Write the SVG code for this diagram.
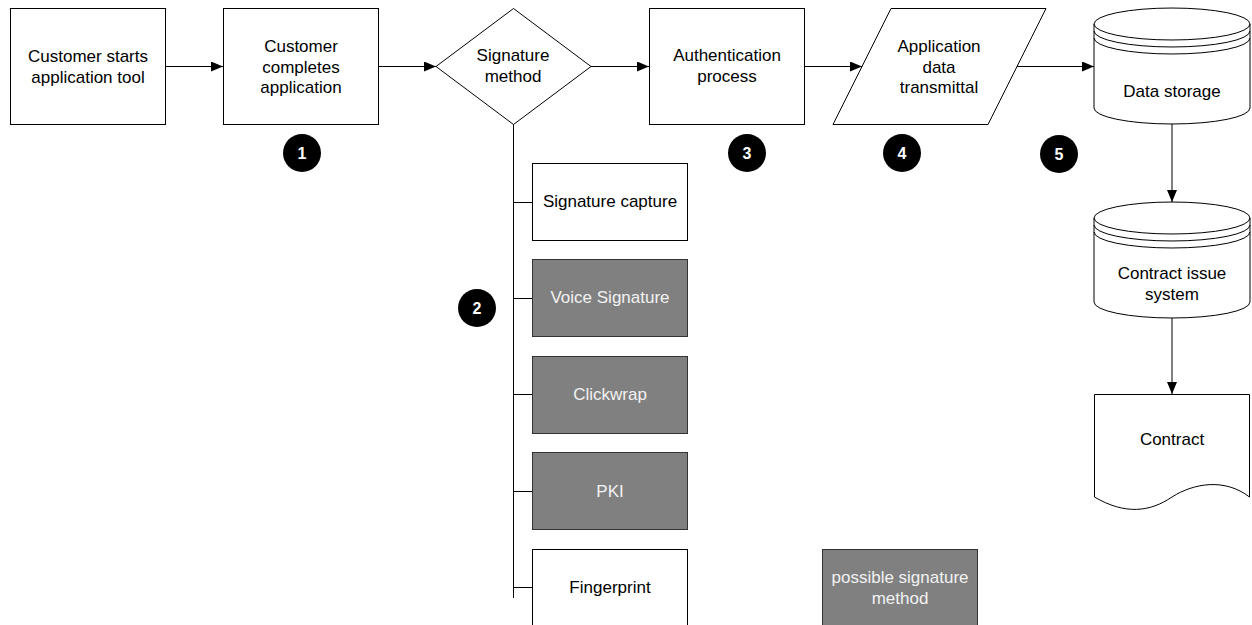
<svg xmlns="http://www.w3.org/2000/svg" width="1252" height="625" viewBox="0 0 1252 625">
  <style>
    .shape { fill: #ffffff; stroke: #000000; stroke-width: 1; }
    .alt { fill: #808080; stroke: #333333; stroke-width: 1; }
    .lbl { font-family: "Liberation Sans", Arial, sans-serif; font-size: 17px; fill: #000000; text-anchor: middle; }
    .lbl-alt { font-family: "Liberation Sans", Arial, sans-serif; font-size: 17px; fill: #f2f2f2; text-anchor: middle; }
    .badge { fill: #000000; }
    .num { font-family: "Liberation Sans", Arial, sans-serif; font-size: 16px; font-weight: bold; fill: #ffffff; text-anchor: middle; }
    .link { fill: none; stroke: #000000; stroke-width: 1; }
  </style>
  <defs>
    <marker id="arrow" markerWidth="12" markerHeight="10" refX="12" refY="5" orient="auto" markerUnits="userSpaceOnUse">
      <path d="M0,0 L12,5 L0,10 Z" fill="#000000"/>
    </marker>
  </defs>

  <rect width="1252" height="625" fill="#ffffff"/>

  <!-- connectors -->
  <g id="connectors">
    <line class="link" x1="165" y1="66.5" x2="223" y2="66.5" marker-end="url(#arrow)"/>
    <line class="link" x1="378" y1="66.5" x2="436" y2="66.5" marker-end="url(#arrow)"/>
    <line class="link" x1="591" y1="66.5" x2="649" y2="66.5" marker-end="url(#arrow)"/>
    <line class="link" x1="804" y1="66.5" x2="862" y2="66.5" marker-end="url(#arrow)"/>
    <line class="link" x1="1017" y1="66.5" x2="1094" y2="66.5" marker-end="url(#arrow)"/>
    <line class="link" x1="1172" y1="124" x2="1172" y2="202" marker-end="url(#arrow)"/>
    <line class="link" x1="1172" y1="318" x2="1172" y2="394" marker-end="url(#arrow)"/>
    <!-- branch trunk from the decision to the signature options -->
    <line class="link" x1="513.5" y1="124" x2="513.5" y2="598"/>
    <line class="link" x1="513" y1="202.5" x2="532" y2="202.5"/>
    <line class="link" x1="513" y1="298.5" x2="532" y2="298.5"/>
    <line class="link" x1="513" y1="394.5" x2="532" y2="394.5"/>
    <line class="link" x1="513" y1="491.5" x2="532" y2="491.5"/>
    <line class="link" x1="513" y1="587.5" x2="532" y2="587.5"/>
  </g>

  <g id="start">
    <rect class="shape" x="10.5" y="8.5" width="155" height="116"/>
    <text class="lbl" x="88" y="62">Customer starts</text>
    <text class="lbl" x="88" y="82.5">application tool</text>
  </g>

  <g id="complete">
    <rect class="shape" x="223.5" y="8.5" width="155" height="116"/>
    <text class="lbl" x="301" y="52">Customer</text>
    <text class="lbl" x="301" y="72.5">completes</text>
    <text class="lbl" x="301" y="93">application</text>
  </g>

  <g id="decision">
    <path class="shape" d="M436,66.5 L513.5,8.5 L591,66.5 L513.5,124.5 Z"/>
    <text class="lbl" x="513" y="61">Signature</text>
    <text class="lbl" x="513" y="81.5">method</text>
  </g>

  <g id="auth">
    <rect class="shape" x="649.5" y="8.5" width="155" height="116"/>
    <text class="lbl" x="727" y="61">Authentication</text>
    <text class="lbl" x="727" y="81.5">process</text>
  </g>

  <g id="transmit">
    <path class="shape" d="M891,8.5 L1046,8.5 L988,124.5 L833,124.5 Z"/>
    <text class="lbl" x="939" y="52">Application</text>
    <text class="lbl" x="939" y="72.5">data</text>
    <text class="lbl" x="939" y="93">transmittal</text>
  </g>

  <g id="storage">
    <path class="shape" d="M1094,24 L1094,108 A78,16 0 0 0 1250,108 L1250,24 A78,16 0 0 0 1094,24 Z"/>
    <path class="link" d="M1094,24 A78,16 0 0 0 1250,24"/>
    <path class="link" d="M1094,31 A78,16 0 0 0 1250,31"/>
    <path class="link" d="M1094,38 A78,16 0 0 0 1250,38"/>
    <text class="lbl" x="1172" y="97">Data storage</text>
  </g>

  <g id="issue">
    <path class="shape" d="M1094,218 L1094,302 A78,16 0 0 0 1250,302 L1250,218 A78,16 0 0 0 1094,218 Z"/>
    <path class="link" d="M1094,218 A78,16 0 0 0 1250,218"/>
    <path class="link" d="M1094,225 A78,16 0 0 0 1250,225"/>
    <path class="link" d="M1094,232 A78,16 0 0 0 1250,232"/>
    <text class="lbl" x="1172" y="279">Contract issue</text>
    <text class="lbl" x="1172" y="299.5">system</text>
  </g>

  <g id="contract">
    <path class="shape" d="M1094.5,394.5 L1249.5,394.5 L1249.5,497 C1225,478 1194,483 1172,497 C1150,512 1125,515 1094.5,497 Z"/>
    <text class="lbl" x="1172" y="445">Contract</text>
  </g>

  <g id="opt-capture">
    <rect class="shape" x="532.5" y="163.5" width="155" height="77"/>
    <text class="lbl" x="610" y="207">Signature capture</text>
  </g>

  <g id="opt-voice">
    <rect class="alt" x="532.5" y="259.5" width="155" height="77"/>
    <text class="lbl-alt" x="610" y="303">Voice Signature</text>
  </g>

  <g id="opt-clickwrap">
    <rect class="alt" x="532.5" y="356.5" width="155" height="77"/>
    <text class="lbl-alt" x="610" y="400">Clickwrap</text>
  </g>

  <g id="opt-pki">
    <rect class="alt" x="532.5" y="452.5" width="155" height="77"/>
    <text class="lbl-alt" x="610" y="497">PKI</text>
  </g>

  <g id="opt-fingerprint">
    <rect class="shape" x="532.5" y="549.5" width="155" height="90"/>
    <text class="lbl" x="610" y="593">Fingerprint</text>
  </g>

  <g id="legend">
    <rect class="alt" x="822.5" y="549.5" width="155" height="90"/>
    <text class="lbl-alt" x="900" y="583">possible signature</text>
    <text class="lbl-alt" x="900" y="604">method</text>
  </g>

  <g id="step-1">
    <circle class="badge" cx="302" cy="153" r="19"/>
    <text class="num" x="302" y="159">1</text>
  </g>
  <g id="step-2">
    <circle class="badge" cx="477" cy="308" r="19"/>
    <text class="num" x="477" y="314">2</text>
  </g>
  <g id="step-3">
    <circle class="badge" cx="747" cy="153" r="19"/>
    <text class="num" x="747" y="159">3</text>
  </g>
  <g id="step-4">
    <circle class="badge" cx="902" cy="153" r="19"/>
    <text class="num" x="902" y="159">4</text>
  </g>
  <g id="step-5">
    <circle class="badge" cx="1059" cy="154" r="19"/>
    <text class="num" x="1059" y="160">5</text>
  </g>
</svg>
